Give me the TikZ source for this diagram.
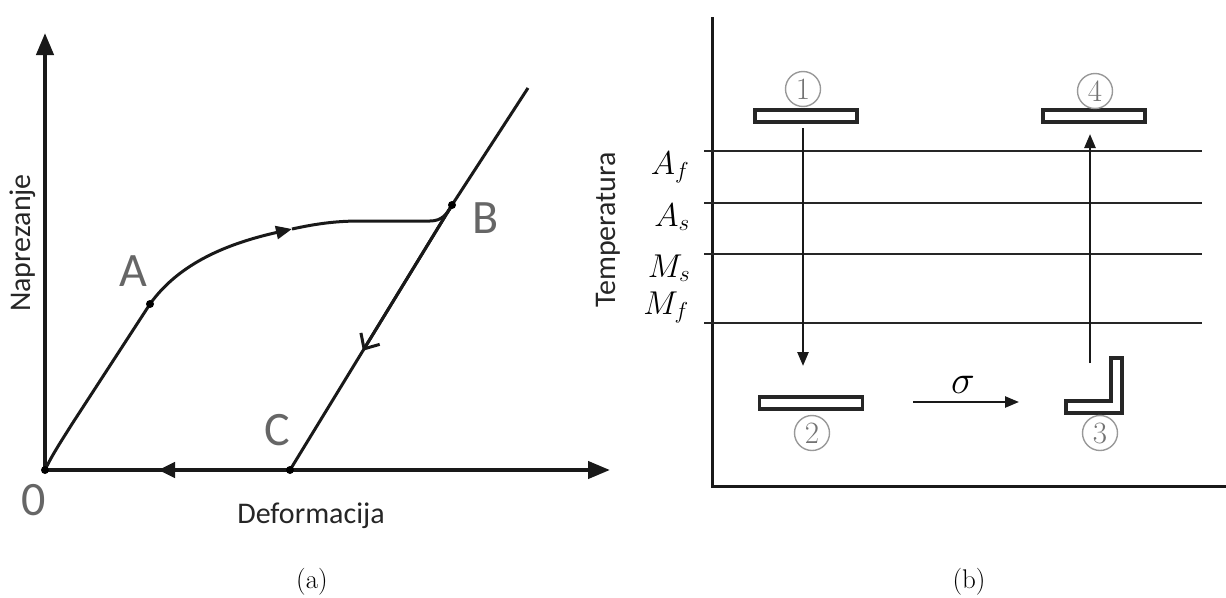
\RequirePackage{fix-cm}
\documentclass[tikz,border=0pt]{standalone}
\usepackage{fontspec}
\newfontfamily\carlitofont{Carlito}
\usetikzlibrary{arrows.meta,calc}
\begin{document}
\begin{tikzpicture}[x=1pt,y=-1pt,
  axis/.style={line width=4.2pt, black!90},
  curve/.style={line width=3pt, black!90},
  dot/.style={circle, fill=black, inner sep=0pt, minimum size=8pt},
  ptlabel/.style={font=\carlitofont\fontsize{48}{50}\selectfont, text=black!60, inner sep=0pt},
  axlabel/.style={font=\carlitofont\fontsize{30}{34}\selectfont, text=black!85, inner sep=0pt},
  mlabel/.style={font=\fontsize{33}{36}\selectfont, inner sep=0pt, anchor=base},
  hline/.style={line width=2.6pt, black!85},
  bar/.style={draw=black!85, line width=3.4pt, fill=white},
  num/.style={circle, draw=black!40, line width=1.4pt, minimum size=35pt, inner sep=0pt, text=black!55, font=\fontsize{31}{33}\selectfont},
  varrow/.style={line width=2.5pt, black!90, -{Triangle[length=14pt,width=11pt]}},
  caption/.style={font=\fontsize{27}{30}\selectfont, inner sep=0pt},
]
\useasboundingbox (0,0) rectangle (1226,597);
% ---------- (a) ----------
\coordinate (O) at (45,470);
\coordinate (ytip) at (45,33);
\coordinate (xtip) at (610,470);
\coordinate (A) at (150,304);
\coordinate (B) at (452,205);
\coordinate (C) at (290,470);
\coordinate (top) at (528,88);
\coordinate (m1) at (292,229);
\coordinate (m2) at (158,470);
\coordinate (m3) at ($(C)!0.45!(B)$);
\draw[axis, -{Triangle[length=22pt,width=17pt]}] (O) -- (ytip);
\draw[axis, -{Triangle[length=22pt,width=17pt]}] (O) -- (xtip);
\draw[axis, -{Triangle[length=17pt,width=15pt]}] (C) -- (m2);
\draw[curve] (O) .. controls (52,455) and (62,440) .. (72,424) -- (A);
\draw[curve, -{Triangle[length=16pt,width=13pt]}] (A) .. controls (180,262) and (230,243) .. (m1);
\draw[curve] (m1) .. controls (315,224) and (335,221) .. (360,221) -- (430,221) .. controls (442,221) and (447,214) .. (B);
\draw[curve] (C) -- (B) -- (top);
\draw[curve, -{Straight Barb[length=12pt,width=22pt]}] (B) -- (m3);
\node[dot] at (O) {};
\node[dot] at (A) {};
\node[dot] at (B) {};
\node[dot] at (C) {};
\node[ptlabel] (lA) at (133,271) {A};
\node[ptlabel] (lB) at (486,218) {B};
\node[ptlabel] (lC) at (277,430) {C};
\node[ptlabel] (l0) at (34,500) {0};
\node[axlabel, rotate=90] (ny) at (23,243) {Naprezanje};
\node[axlabel] (nx) at (311,516) {Deformacija};
\node[caption] (capa) at (312,582) {(a)};
% ---------- (b) ----------
\coordinate (by) at (712,17);
\coordinate (bo) at (712,486);
\coordinate (bx) at (1226,486);
\draw[line width=3pt, black!90] (by) -- (bo) -- (bx);
\foreach \yy/\nm in {151/Af,203/As,254/Ms,323/Mf}{
  \coordinate (\nm l) at (704,\yy);
  \coordinate (\nm r) at (1202,\yy);
  \draw[hline] (\nm l) -- (\nm r);
}
\node[mlabel] (tAf) at (670,174) {$A_f$};
\node[mlabel] (tAs) at (672,226) {$A_s$};
\node[mlabel] (tMs) at (669,277) {$M_s$};
\node[mlabel] (tMf) at (666,314) {$M_f$};
\node[axlabel, rotate=90] (ty) at (608,230) {Temperatura};
\node[bar, minimum width=102pt, minimum height=12pt, inner sep=0pt] (bar1) at (806,116) {};
\node[bar, minimum width=102pt, minimum height=12pt, inner sep=0pt] (bar4) at (1094,116) {};
\node[bar, minimum width=103pt, minimum height=12pt, inner sep=0pt] (bar2) at (811,403) {};
\draw[bar] (1066,401) -- (1111,401) -- (1111,358) -- (1122,358) -- (1122,413) -- (1066,413) -- cycle;
\node[num] (n1) at (803,89) {1};
\node[num] (n4) at (1095,91) {4};
\node[num] (n2) at (812,433) {2};
\node[num] (n3) at (1100,433) {3};
\coordinate (d1) at (803,128);
\coordinate (d2) at (803,366);
\coordinate (u1) at (1090,363);
\coordinate (u2) at (1090,134);
\coordinate (s1) at (913,402);
\coordinate (s2) at (1019,402);
\draw[varrow] (d1) -- (d2);
\draw[varrow] (u1) -- (u2);
\draw[varrow] (s1) -- (s2);
\node[font=\fontsize{40}{42}\selectfont, inner sep=0pt] (sig) at (963,385) {$\sigma$};
\node[caption] (capb) at (969,582) {(b)};
\end{tikzpicture}
\end{document}
